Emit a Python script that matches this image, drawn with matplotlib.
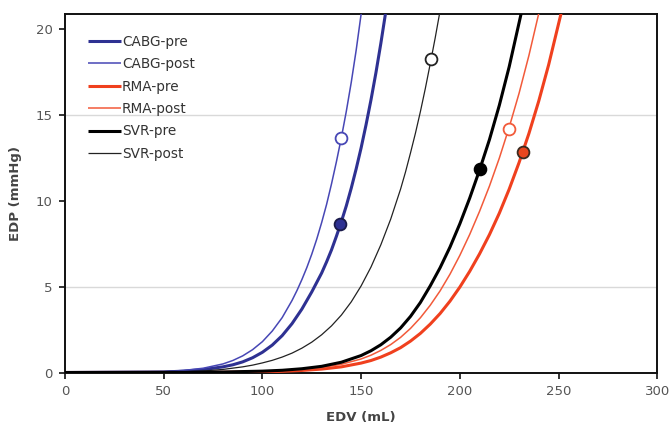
import matplotlib
matplotlib.use("Agg")
import matplotlib.pyplot as plt

# ---- data ----
cabg_pre_v = [0, 50, 60, 70, 80, 85, 90, 95, 100, 105, 110, 115, 120, 125, 130, 132.5, 135, 137.5,
              140, 142.5, 145, 147.5, 150, 152.5, 155, 157.5, 160, 162.5, 164]
cabg_pre_p = [0, 0.03, 0.08, 0.17, 0.33, 0.45, 0.62, 0.86, 1.18, 1.6, 2.15, 2.85, 3.7, 4.7, 5.8, 6.45, 7.15, 7.95,
              8.8, 9.72, 10.75, 11.88, 13.1, 14.45, 15.9, 17.48, 19.2, 21.05, 22.2]

cabg_post_v = [0, 50, 60, 70, 80, 85, 90, 95, 100, 105, 110, 115, 117.5, 120, 122.5, 125, 127.5, 130,
               132.5, 135, 137.5, 140, 142.5, 145, 147.5, 150, 152]
cabg_post_p = [0, 0.05, 0.12, 0.25, 0.5, 0.7, 0.97, 1.33, 1.8, 2.42, 3.2, 4.2, 4.78, 5.42, 6.12, 6.9, 7.77, 8.74,
               9.8, 11.0, 12.3, 13.7, 15.23, 16.92, 18.8, 20.9, 22.7]

rma_pre_v = [0, 80, 100, 110, 120, 130, 140, 150, 155, 160, 165, 170, 175, 180, 185, 190, 195, 200,
             205, 210, 215, 220, 225, 230, 235, 240, 245, 251.2, 254]
rma_pre_p = [0, 0.015, 0.04, 0.07, 0.12, 0.2, 0.33, 0.55, 0.7, 0.9, 1.15, 1.45, 1.83, 2.28, 2.82, 3.44, 4.16, 4.98,
             5.9, 6.92, 8.04, 9.29, 10.69, 12.24, 13.94, 15.84, 17.95, 20.9, 22.4]

rma_post_v = [0, 60, 80, 100, 110, 120, 130, 140, 150, 155, 160, 165, 170, 175, 180, 185, 190, 195,
              200, 205, 210, 215, 220, 225, 230, 235, 239.9, 242]
rma_post_p = [0, 0.008, 0.023, 0.063, 0.105, 0.175, 0.29, 0.48, 0.79, 1.01, 1.29, 1.63, 2.05, 2.57, 3.19, 3.92, 4.76, 5.73,
              6.83, 8.05, 9.4, 10.87, 12.5, 14.3, 16.28, 18.49, 20.9, 22.0]

svr_pre_v = [0, 60, 80, 100, 110, 120, 130, 140, 150, 155, 160, 165, 170, 175, 180, 185, 190, 195,
             200, 205, 210, 215, 220, 225, 231, 234]
svr_pre_p = [0, 0.01, 0.03, 0.08, 0.13, 0.22, 0.36, 0.6, 0.99, 1.27, 1.62, 2.06, 2.6, 3.27, 4.08, 5.05, 6.11, 7.31,
             8.67, 10.17, 11.81, 13.58, 15.58, 17.83, 20.9, 22.6]

svr_post_v = [0, 50, 60, 70, 80, 90, 95, 100, 105, 110, 115, 120, 125, 130, 135, 140, 145, 150, 155,
              160, 165, 170, 172.5, 175, 177.5, 180, 182.5, 185, 187.5, 190, 192]
svr_post_p = [0, 0.02, 0.04, 0.09, 0.18, 0.33, 0.43, 0.56, 0.71, 0.9, 1.13, 1.42, 1.77, 2.2, 2.72, 3.35, 4.12, 5.05, 6.15,
              7.45, 8.95, 10.7, 11.7, 12.8, 13.95, 15.2, 16.55, 18.0, 19.5, 21.1, 22.4]

# markers (EDV, EDP)
marker_v = [139.5, 139.9, 231.8, 224.7, 210.0, 185.5]
marker_p = [8.66, 13.7, 12.88, 14.19, 11.87, 18.27]

labels = ["CABG-pre", "CABG-post", "RMA-pre", "RMA-post", "SVR-pre", "SVR-post"]

# ---- styles ----
colors = ["#2E3192", "#4747B5", "#F0401E", "#F25A3A", "#000000", "#222222"]
widths = [2.2, 1.1, 2.2, 1.1, 2.2, 0.9]
fill_colors = ["#2E3192", "white", "#E8461E", "white", "#000000", "white"]
edge_colors = ["#1A1A4A", "#4747B5", "#3A2A20", "#F25A3A", "#000000", "#222222"]

curves = [(cabg_pre_v, cabg_pre_p), (cabg_post_v, cabg_post_p),
          (rma_pre_v, rma_pre_p), (rma_post_v, rma_post_p),
          (svr_pre_v, svr_pre_p), (svr_post_v, svr_post_p)]

fig = plt.figure(figsize=(6.7, 4.25), dpi=100)
ax = fig.add_axes([0.097, 0.1235, 0.884, 0.8435])

for y in (5, 15):
    ax.axhline(y, color="#D9D9D9", lw=1.0, zorder=0)

draw_order = [2, 3, 0, 1, 5, 4]
handles = {}
for i in draw_order:
    v, p = curves[i]
    ln, = ax.plot(v, p, color=colors[i], lw=widths[i], label=labels[i],
                  solid_capstyle="butt", solid_joinstyle="round", zorder=3)
    handles[i] = ln

for i in range(6):
    ax.plot(marker_v[i], marker_p[i], "o", ms=8.5,
            markerfacecolor=fill_colors[i], markeredgecolor=edge_colors[i],
            markeredgewidth=1.3, zorder=5)

ax.set_xlim(0, 300)
ax.set_ylim(0, 20.9)
ax.set_xticks([0, 50, 100, 150, 200, 250, 300])
ax.set_yticks([0, 5, 10, 15, 20])

for s in ax.spines.values():
    s.set_color("#111111")
    s.set_linewidth(1.4)

ax.tick_params(axis="both", direction="out", length=4, width=1.2,
               colors="#111111", labelcolor="#555555", labelsize=9.5, pad=5)

ax.set_xlabel("EDV (mL)", fontsize=9.5, fontweight="bold", color="#444444", labelpad=9)
ax.set_ylabel("EDP (mmHg)", fontsize=9.5, fontweight="bold", color="#444444", labelpad=10)

leg = ax.legend([handles[i] for i in range(6)], labels, loc="upper left",
                bbox_to_anchor=(0.025, 0.965), frameon=False, fontsize=9.8,
                handlelength=2.4, handletextpad=0.1, labelspacing=0.62,
                borderaxespad=0.2)
for t in leg.get_texts():
    t.set_color("#333333")

fig.savefig("out.png", dpi=100)
